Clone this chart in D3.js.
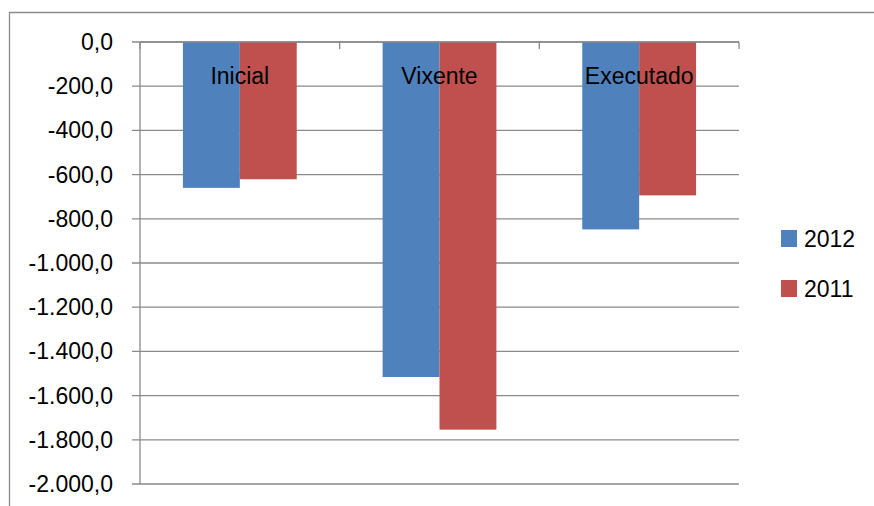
<!DOCTYPE html>
<html lang="gl">
<head>
    <meta charset="UTF-8">
    <title>Inicial / Vixente / Executado</title>
    <script src="https://d3js.org/d3.v7.min.js"></script>
    <style>
        body { margin: 0; background: #fff; }
        svg text { font-family: "Liberation Sans", Arial, sans-serif; fill: #000; }
    </style>
</head>
<body>
    <div id="chart"></div>

    <script>
        // data
        var categories = ["Inicial", "Vixente", "Executado"];
        var seriesNames = ["2012", "2011"];
        var values2012 = [-660, -1516, -848];
        var values2011 = [-621, -1754, -694];
        var yTicks = [0, -200, -400, -600, -800, -1000, -1200, -1400, -1600, -1800, -2000];

        var colors = { "2012": "#4F81BD", "2011": "#C0504D" };
        var gridColor = "#8a8a8a";

        var width = 874, height = 506;
        var svg = d3.select("#chart").append("svg")
            .attr("width", width)
            .attr("height", height);

        // outer chart frame (only top and left edges are in view)
        svg.append("path")
            .attr("d", "M9.5," + height + " V12.5 H" + width)
            .attr("fill", "none")
            .attr("stroke", gridColor)
            .attr("stroke-width", 1.3);

        var plot = { left: 140, right: 739, top: 42, bottom: 484 };

        var y = d3.scaleLinear()
            .domain([0, -2000])
            .range([plot.top, plot.bottom]);

        var x = d3.scaleBand()
            .domain(categories)
            .range([plot.left, plot.right]);

        var xInner = d3.scaleBand()
            .domain(seriesNames)
            .range([x.bandwidth() * 0.215, x.bandwidth() * 0.785]);

        // number format like 1.200,0
        var fmt = function(v) {
            var s = d3.format(",.1f")(v);
            return s.replace(/,/g, "#").replace(".", ",").replace(/#/g, ".").replace("−", "-");
        };

        // gridlines
        svg.append("g")
            .selectAll("line")
            .data(yTicks)
            .join("line")
            .attr("x1", plot.left - 8)
            .attr("x2", plot.right)
            .attr("y1", d => y(d))
            .attr("y2", d => y(d))
            .attr("stroke", gridColor)
            .attr("stroke-width", 1.3);

        // value axis line
        svg.append("line")
            .attr("x1", plot.left).attr("x2", plot.left)
            .attr("y1", plot.top).attr("y2", plot.bottom)
            .attr("stroke", gridColor)
            .attr("stroke-width", 1.3);

        // value axis labels
        svg.append("g")
            .selectAll("text")
            .data(yTicks)
            .join("text")
            .attr("x", 113)
            .attr("y", d => y(d) + 8)
            .attr("text-anchor", "end")
            .attr("font-size", 23)
            .text(d => fmt(d));

        // bars
        var rows = categories.map((c, i) => ({ cat: c, values: [
            { name: "2012", v: values2012[i] },
            { name: "2011", v: values2011[i] }
        ]}));

        var groups = svg.append("g")
            .selectAll("g")
            .data(rows)
            .join("g")
            .attr("transform", d => "translate(" + x(d.cat) + ",0)");

        groups.selectAll("rect")
            .data(d => d.values)
            .join("rect")
            .attr("x", d => xInner(d.name))
            .attr("width", xInner.bandwidth())
            .attr("y", y(0))
            .attr("height", d => y(d.v) - y(0))
            .attr("fill", d => colors[d.name]);

        // category axis (sits at zero, ticks pointing down)
        svg.append("line")
            .attr("x1", plot.left).attr("x2", plot.right)
            .attr("y1", y(0)).attr("y2", y(0))
            .attr("stroke", gridColor)
            .attr("stroke-width", 1.3);

        var catEdges = categories.map(c => x(c)).concat([plot.right]);
        svg.append("g")
            .selectAll("line")
            .data(catEdges)
            .join("line")
            .attr("x1", d => d).attr("x2", d => d)
            .attr("y1", y(0)).attr("y2", y(0) + 7)
            .attr("stroke", gridColor)
            .attr("stroke-width", 1.3);

        // category labels drawn inside the plot, near the top
        svg.append("g")
            .selectAll("text")
            .data(categories)
            .join("text")
            .attr("x", d => x(d) + x.bandwidth() / 2)
            .attr("y", 84)
            .attr("text-anchor", "middle")
            .attr("font-size", 23)
            .text(d => d);

        // legend
        var legend = svg.append("g")
            .selectAll("g")
            .data(seriesNames)
            .join("g")
            .attr("transform", (d, i) => "translate(781," + (230 + i * 50) + ")");

        legend.append("rect")
            .attr("width", 16)
            .attr("height", 17)
            .attr("fill", d => colors[d]);

        legend.append("text")
            .attr("x", 23)
            .attr("y", 17)
            .attr("font-size", 23)
            .text(d => d);
    </script>
</body>
</html>
